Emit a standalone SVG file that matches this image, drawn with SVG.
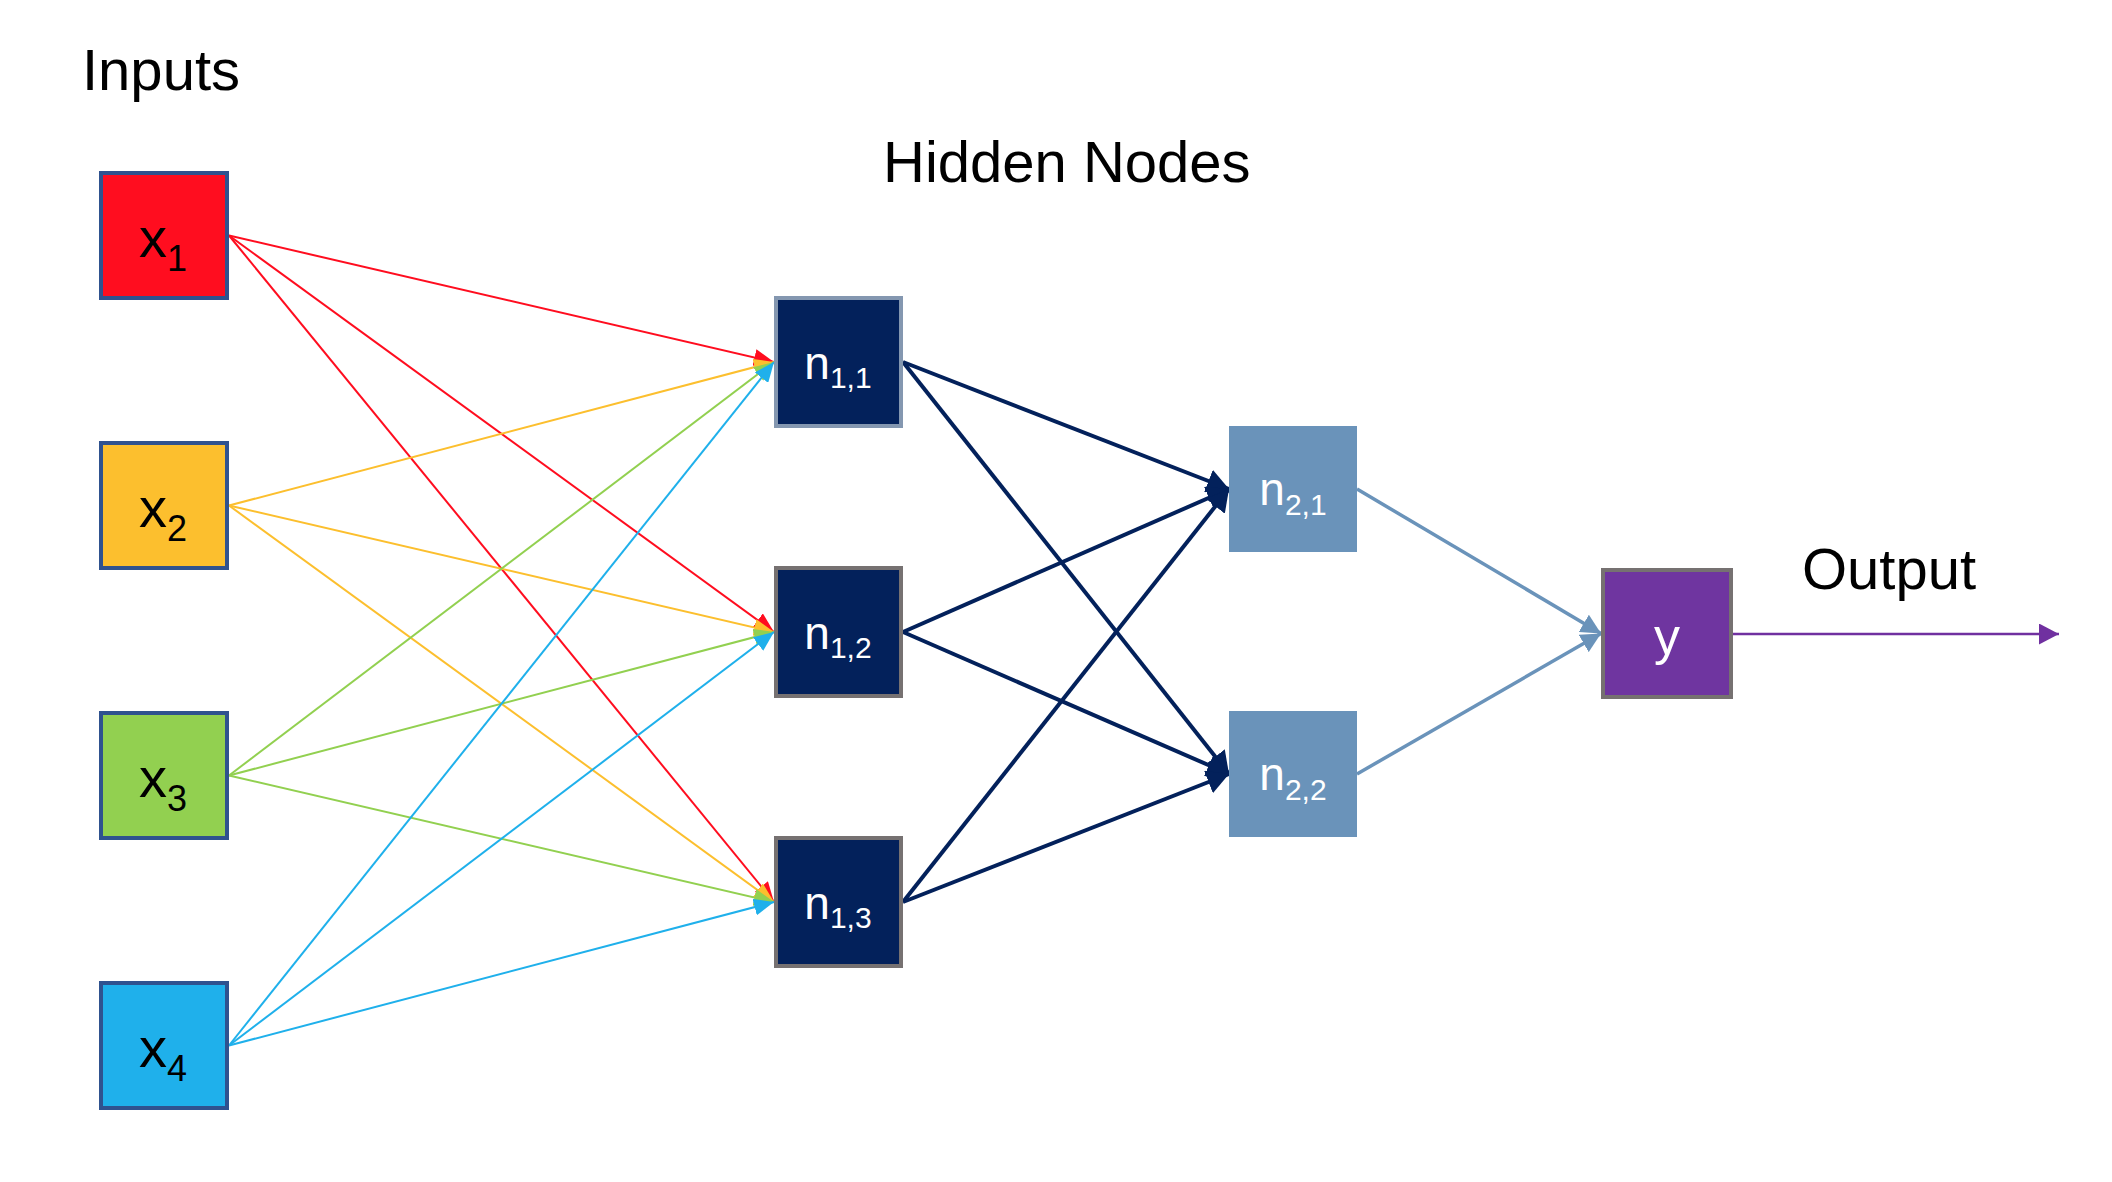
<svg xmlns="http://www.w3.org/2000/svg" width="2112" height="1182" viewBox="0 0 2112 1182">
<style>
  .title{font-family:"Liberation Sans",Arial,sans-serif;font-size:58px;fill:#000}
  .lbl{font-family:"Liberation Sans",Arial,sans-serif;font-size:56px;fill:#000}
  .sub{font-size:36px}
  .nlbl{font-family:"Liberation Sans",Arial,sans-serif;font-size:46px;fill:#fff}
  .nsub{font-size:30px}
  .inbox{stroke:#2F528F;stroke-width:4}
  .n1{fill:#03215B;stroke:#767171;stroke-width:4}
  .n2{fill:#6A93BA}
  .in{fill:none;stroke-width:2}
  .hid{fill:none;stroke:#03215B;stroke-width:4}
  .out2{fill:none;stroke:#6A93BA;stroke-width:3.5}
</style>
<defs>
  <marker id="aR" markerUnits="userSpaceOnUse" markerWidth="20" markerHeight="17" refX="20" refY="8.5" orient="auto"><path d="M0,0 L20,8.5 L0,17 z" fill="#FF0D1F"/></marker>
  <marker id="aO" markerUnits="userSpaceOnUse" markerWidth="20" markerHeight="17" refX="20" refY="8.5" orient="auto"><path d="M0,0 L20,8.5 L0,17 z" fill="#FCBF2E"/></marker>
  <marker id="aG" markerUnits="userSpaceOnUse" markerWidth="20" markerHeight="17" refX="20" refY="8.5" orient="auto"><path d="M0,0 L20,8.5 L0,17 z" fill="#92D050"/></marker>
  <marker id="aB" markerUnits="userSpaceOnUse" markerWidth="20" markerHeight="17" refX="20" refY="8.5" orient="auto"><path d="M0,0 L20,8.5 L0,17 z" fill="#1FB0EB"/></marker>
  <marker id="aN" markerUnits="userSpaceOnUse" markerWidth="22" markerHeight="24" refX="22" refY="12" orient="auto"><path d="M0,0 L22,12 L0,24 z" fill="#03215B"/></marker>
  <marker id="aL" markerUnits="userSpaceOnUse" markerWidth="20" markerHeight="20" refX="20" refY="10" orient="auto"><path d="M0,0 L20,10 L0,20 z" fill="#6A93BA"/></marker>
  <marker id="aP" markerUnits="userSpaceOnUse" markerWidth="20" markerHeight="21" refX="20" refY="10.5" orient="auto"><path d="M0,0 L20,10.5 L0,21 z" fill="#7030A0"/></marker>
</defs>
<rect width="2112" height="1182" fill="#fff"/>
<text class="title" x="82" y="90">Inputs</text>
<text class="title" x="883" y="182">Hidden Nodes</text>
<text class="title" x="1802" y="589">Output</text>
<g id="connectors">
  <line class="in" stroke="#FF0D1F" marker-end="url(#aR)" x1="229" y1="235.5" x2="774" y2="362"/>
  <line class="in" stroke="#FF0D1F" marker-end="url(#aR)" x1="229" y1="235.5" x2="774" y2="632"/>
  <line class="in" stroke="#FF0D1F" marker-end="url(#aR)" x1="229" y1="235.5" x2="774" y2="902"/>
  <line class="in" stroke="#FCBF2E" marker-end="url(#aO)" x1="229" y1="505.5" x2="774" y2="362"/>
  <line class="in" stroke="#FCBF2E" marker-end="url(#aO)" x1="229" y1="505.5" x2="774" y2="632"/>
  <line class="in" stroke="#FCBF2E" marker-end="url(#aO)" x1="229" y1="505.5" x2="774" y2="902"/>
  <line class="in" stroke="#92D050" marker-end="url(#aG)" x1="229" y1="775.5" x2="774" y2="362"/>
  <line class="in" stroke="#92D050" marker-end="url(#aG)" x1="229" y1="775.5" x2="774" y2="632"/>
  <line class="in" stroke="#92D050" marker-end="url(#aG)" x1="229" y1="775.5" x2="774" y2="902"/>
  <line class="in" stroke="#1FB0EB" marker-end="url(#aB)" x1="229" y1="1045.5" x2="774" y2="362"/>
  <line class="in" stroke="#1FB0EB" marker-end="url(#aB)" x1="229" y1="1045.5" x2="774" y2="632"/>
  <line class="in" stroke="#1FB0EB" marker-end="url(#aB)" x1="229" y1="1045.5" x2="774" y2="902"/>
  <line class="hid" marker-end="url(#aN)" x1="903" y1="362" x2="1229" y2="489"/>
  <line class="hid" marker-end="url(#aN)" x1="903" y1="362" x2="1229" y2="774"/>
  <line class="hid" marker-end="url(#aN)" x1="903" y1="632" x2="1229" y2="489"/>
  <line class="hid" marker-end="url(#aN)" x1="903" y1="632" x2="1229" y2="774"/>
  <line class="hid" marker-end="url(#aN)" x1="903" y1="902" x2="1229" y2="489"/>
  <line class="hid" marker-end="url(#aN)" x1="903" y1="902" x2="1229" y2="774"/>
  <line class="out2" marker-end="url(#aL)" x1="1357" y1="489" x2="1601" y2="633.5"/>
  <line class="out2" marker-end="url(#aL)" x1="1357" y1="774" x2="1601" y2="633.5"/>
  <line fill="none" stroke="#7030A0" stroke-width="2.5" marker-end="url(#aP)" x1="1733" y1="634" x2="2059" y2="634"/>
</g>
<g id="x1"><rect class="inbox" x="101" y="173" width="126" height="125" fill="#FF0D1F"/><text class="lbl" x="163" y="257" text-anchor="middle">x<tspan class="sub" dy="14">1</tspan></text></g>
<g id="x2"><rect class="inbox" x="101" y="443" width="126" height="125" fill="#FCBF2E"/><text class="lbl" x="163" y="527" text-anchor="middle">x<tspan class="sub" dy="14">2</tspan></text></g>
<g id="x3"><rect class="inbox" x="101" y="713" width="126" height="125" fill="#92D050"/><text class="lbl" x="163" y="797" text-anchor="middle">x<tspan class="sub" dy="14">3</tspan></text></g>
<g id="x4"><rect class="inbox" x="101" y="983" width="126" height="125" fill="#1FB0EB"/><text class="lbl" x="163" y="1067" text-anchor="middle">x<tspan class="sub" dy="14">4</tspan></text></g>
<g id="n11"><rect class="n1" x="776" y="298" width="125" height="128" style="stroke:#8497B0"/><text class="nlbl" x="838" y="379" text-anchor="middle">n<tspan class="nsub" dy="9">1,1</tspan></text></g>
<g id="n12"><rect class="n1" x="776" y="568" width="125" height="128"/><text class="nlbl" x="838" y="649" text-anchor="middle">n<tspan class="nsub" dy="9">1,2</tspan></text></g>
<g id="n13"><rect class="n1" x="776" y="838" width="125" height="128"/><text class="nlbl" x="838" y="919" text-anchor="middle">n<tspan class="nsub" dy="9">1,3</tspan></text></g>
<g id="n21"><rect class="n2" x="1229" y="426" width="128" height="126"/><text class="nlbl" x="1293" y="505" text-anchor="middle">n<tspan class="nsub" dy="10">2,1</tspan></text></g>
<g id="n22"><rect class="n2" x="1229" y="711" width="128" height="126"/><text class="nlbl" x="1293" y="790" text-anchor="middle">n<tspan class="nsub" dy="10">2,2</tspan></text></g>
<g id="y"><rect x="1603" y="570" width="128" height="127" fill="#6F35A0" stroke="#767171" stroke-width="4"/><text class="nlbl" x="1667" y="654" text-anchor="middle" style="font-size:52px">y</text></g>
</svg>
